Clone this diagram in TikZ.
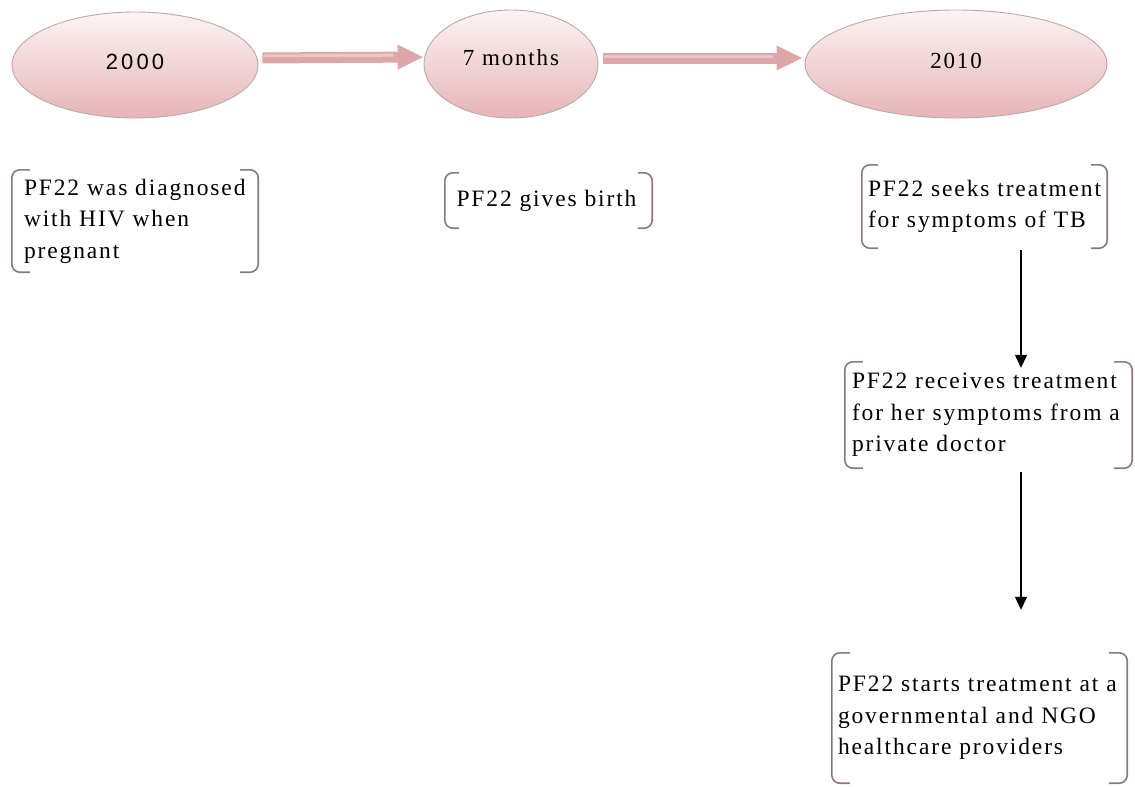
\documentclass[tikz,border=0pt]{standalone}
\usepackage{fontspec}
\setmainfont{Liberation Serif}[LetterSpace=8]
\setsansfont{Liberation Sans}[LetterSpace=14]
\usetikzlibrary{arrows.meta,shapes.geometric}

\definecolor{elltop}{HTML}{FCF4F4}
\definecolor{ellbot}{HTML}{E6B4B7}
\definecolor{ellline}{HTML}{BBA8A9}
\definecolor{flow}{HTML}{DDA6A9}
\definecolor{flowlight}{HTML}{EDC7C8}
\definecolor{brkline}{HTML}{8C7878}

\tikzset{
  year/.style={ellipse, draw=ellline, line width=0.9pt, top color=elltop,
    bottom color=ellbot, inner sep=0pt, font=\fontsize{23}{26}\selectfont},
  event/.style={rectangle, inner sep=0pt, align=left,
    font=\fontsize{23.5}{31.5}\selectfont},
  brk/.style={draw=brkline, line width=1.6pt, rounded corners=8pt},
  flowarrow/.style={draw=flow, line width=11pt,
    -{Triangle[length=26pt,width=23pt]}},
  flowshine/.style={draw=flowlight, line width=3pt},
  steparrow/.style={draw=black, line width=1.3pt,
    -{Triangle[length=13pt,width=12pt]}}
}

% bracket pair around an event node
\newcommand\bracketpair[2]{%
  \draw[brk] ([xshift=#2]#1.north west) -- (#1.north west) --
    (#1.south west) -- ([xshift=#2]#1.south west);
  \draw[brk] ([xshift=-#2]#1.north east) -- (#1.north east) --
    (#1.south east) -- ([xshift=-#2]#1.south east);}

\begin{document}
\begin{tikzpicture}[x=1pt,y=-1pt]
\useasboundingbox (0,0) rectangle (1135,787);

% timeline
\node[year, minimum width=246pt, minimum height=106pt] (e1) at (135,65)
  {\raisebox{7pt}{\sffamily\fontsize{22}{26}\selectfont 2000}};
\node[year, minimum width=174pt, minimum height=108pt] (e2) at (511,64)
  {\raisebox{12pt}{7 months}};
\node[year, minimum width=302pt, minimum height=108pt] (e3) at (956,64)
  {\raisebox{6pt}{2010}};

\draw[flowarrow, shorten <=4pt] ([yshift=7pt]e1.east) -- ([yshift=7pt]e2.west);
\draw[flowshine, shorten <=5pt, shorten >=30pt] ([yshift=9pt]e1.east) -- ([yshift=9pt]e2.west);
\draw[flowarrow, shorten <=5pt, shorten >=2pt] ([yshift=6pt]e2.east) -- ([yshift=6pt]e3.west);
\draw[flowshine, shorten <=6pt, shorten >=32pt] ([yshift=8pt]e2.east) -- ([yshift=8pt]e3.west);

% events
\node[event, minimum width=246pt, minimum height=102pt, text width=222pt]
  (b1) at (135,221) {PF22 was diagnosed\\with HIV when\\pregnant};
\node[event, minimum width=207pt, minimum height=55pt, text width=184pt]
  (b2) at (548.5,200.5) {PF22 gives birth};
\node[event, minimum width=245pt, minimum height=83pt, text width=233pt]
  (b3) at (984.5,206.5) {PF22 seeks treatment\\for symptoms of TB};
\node[event, minimum width=287pt, minimum height=106pt, text width=273pt]
  (b4) at (988.5,415) {PF22 receives treatment\\for her symptoms from a\\private doctor};
\node[event, minimum width=295pt, minimum height=130pt, text width=283pt]
  (b5) at (979.5,718) {PF22 starts treatment at a\\governmental and NGO\\healthcare providers};

\bracketpair{b1}{18pt}
\bracketpair{b2}{14pt}
\bracketpair{b3}{16pt}
\bracketpair{b4}{18pt}
\bracketpair{b5}{18pt}

% progression after 2010
\coordinate (ax) at (1021,0);
\draw[steparrow, shorten <=2pt, shorten >=-6pt] (b3.south -| ax) -- (b4.north -| ax);
\draw[steparrow, shorten <=4pt, shorten >=43pt] (b4.south -| ax) -- (b5.north -| ax);
\end{tikzpicture}
\end{document}
